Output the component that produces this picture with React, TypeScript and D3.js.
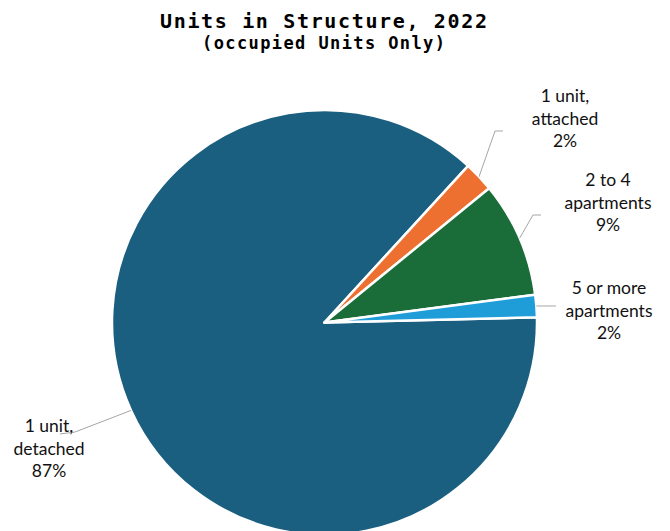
import React from "react";
import * as d3 from "d3";

const categories = ["1 unit, detached", "1 unit, attached", "2 to 4 apartments", "5 or more apartments"];
const values = [87.2, 2.3, 8.8, 1.7];
const percentLabels = ["87%", "2%", "9%", "2%"];
const labelLines = [
  ["1 unit,", "detached"],
  ["1 unit,", "attached"],
  ["2 to 4", "apartments"],
  ["5 or more", "apartments"],
];
const colors = ["#1b5f80", "#ed7031", "#1a6c38", "#1f9dd9"];

const W = 670;
const H = 531;
const cx = 324.5;
const cy = 322.5;
const R = 212.5;
const startDeg = 88.6;

// label layout: [centerX, firstBaseline], leader elbow points
const labelPos: [number, number][] = [
  [49, 432],
  [565, 102],
  [608, 186],
  [609, 294],
];
const leaderPts: [number, number][][] = [
  [[75, 432], [60, 434]],
  [[495, 131], [503, 131]],
  [[533, 215], [541, 215]],
  [[556, 0]],
];

export default function App() {
  const start = (startDeg * Math.PI) / 180;
  const pie = d3
    .pie<number>()
    .sort(null)
    .startAngle(start)
    .endAngle(start + 2 * Math.PI)
    .value((d) => d);
  const arcs = pie(values);
  const arc = d3.arc<d3.PieArcDatum<number>>().innerRadius(0).outerRadius(R);
  const line = d3.line();
  const labelFont = "'Lato', 'Open Sans', sans-serif";

  return (
    <svg width={W} height={H} style={{ position: "absolute", left: 0, top: 0, background: "#fff" }}>
      <text
        x={323.5}
        y={28}
        textAnchor="middle"
        fontFamily="'DejaVu Sans Mono', monospace"
        fontWeight="bold"
        fontSize={20}
        textLength={327}
        lengthAdjust="spacing"
      >
        Units in Structure, 2022
      </text>
      <text
        x={323.5}
        y={48.5}
        textAnchor="middle"
        fontFamily="'DejaVu Sans Mono', monospace"
        fontWeight="bold"
        fontSize={17}
        textLength={243}
        lengthAdjust="spacing"
      >
        (occupied Units Only)
      </text>
      <g transform={`translate(${cx},${cy})`}>
        {arcs.map((a, i) => (
          <path key={i} d={arc(a) || ""} fill={colors[i]} stroke="#fff" strokeWidth={2.5} strokeLinejoin="round" />
        ))}
      </g>
      {arcs.map((a, i) => {
        const mid = (a.startAngle + a.endAngle) / 2;
        const p0: [number, number] = [cx + R * Math.sin(mid), cy - R * Math.cos(mid)];
        const pts: [number, number][] = [p0];
        leaderPts[i].forEach((p) => pts.push([p[0], p[1] === 0 ? p0[1] : p[1]]));
        return <path key={i} d={line(pts) || ""} fill="none" stroke="#a6a6a6" strokeWidth={1} />;
      })}
      {labelLines.map((ls, i) => (
        <text key={i} textAnchor="middle" fontFamily={labelFont} fontSize={17.5} fill="#111">
          {[...ls, percentLabels[i]].map((t, j) => (
            <tspan key={j} x={labelPos[i][0]} y={labelPos[i][1] + j * 22.5}>
              {t}
            </tspan>
          ))}
        </text>
      ))}
    </svg>
  );
}
